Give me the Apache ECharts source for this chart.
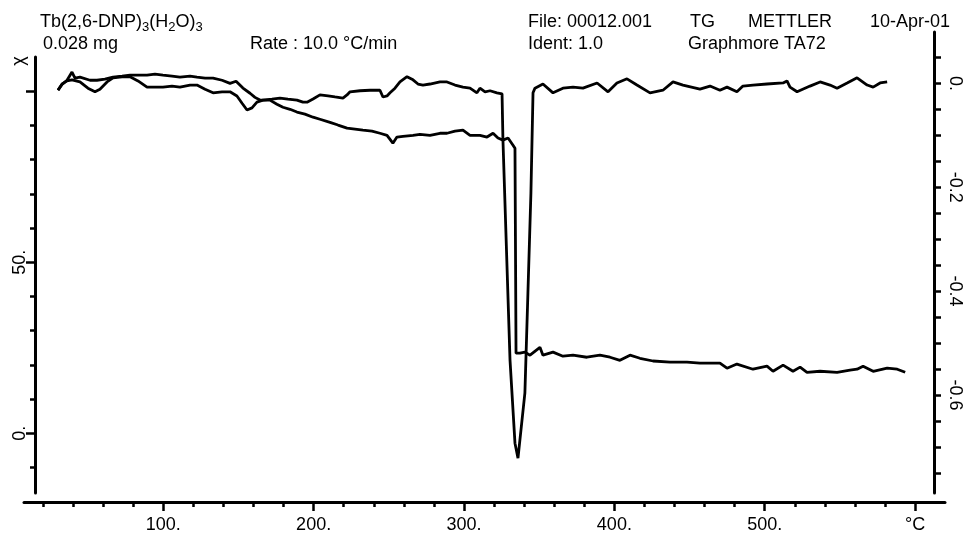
<!DOCTYPE html>
<html><head><meta charset="utf-8">
<script src="https://cdn.jsdelivr.net/npm/echarts@6/dist/echarts.min.js"></script>
<style>html,body{margin:0;padding:0;background:#fff}#c{width:965px;height:534px}</style>
</head><body><div id="c"></div>
<script>
// ---- data ----
const tgTemp = [30.0,32.7,36.0,39.3,41.3,44.6,51.3,55.9,61.2,66.6,
72.6,77.9,84.5,89.2,94.5,99.8,105.8,111.1,117.8,122.4,
127.8,133.1,139.1,144.4,148.4,149.7,153.0,157.7,161.0,164.3,
170.9,175.6,179.6,184.3,188.9,194.2,199.6,204.2,210.9,216.2,
222.2,227.5,232.8,238.8,244.1,248.8,252.7,255.4,259.4,266.1,
270.7,277.4,284.0,288.7,294.0,299.3,304.0,310.6,315.3,319.3,
322.6,325.9,329.3,332.6,333.9,334.6,337.2,340.5,343.9,350.5,
352.5,359.2,365.8,372.5,381.7,390.4,397.1,403.7,410.4,417.0,
425.7,437.0,448.3,456.9,470.2,474.9,481.5,492.2,501.5,505.5,
512.2,518.8,523.5,528.1,536.8,548.1,556.7,561.4,565.4,572.1,
581.4,588.1,593.4];
const tgMass = [100.3,102.0,103.2,105.6,103.8,104.1,103.2,103.2,103.5,104.1,
104.4,104.7,104.7,104.7,105.0,104.7,104.4,104.1,104.4,104.1,
103.8,103.8,103.2,102.3,102.9,103.2,100.9,99.4,98.2,97.4,
97.4,96.2,95.3,94.7,93.9,93.3,92.4,91.8,90.9,90.1,
89.2,88.9,88.6,88.3,87.7,87.1,84.8,86.6,86.8,87.1,
87.4,87.1,87.7,87.7,88.3,88.6,87.1,87.1,86.6,87.7,
86.3,85.7,86.3,84.2,83.3,23.4,23.4,23.7,22.8,25.1,
22.8,23.7,22.5,22.8,22.2,22.8,22.2,21.3,22.8,21.9,
21.1,20.8,20.8,20.5,20.5,19.0,20.2,18.7,19.6,18.1,
19.9,18.1,19.3,17.8,18.1,17.8,18.4,18.7,19.6,18.1,
19.0,18.7,17.8];
const dtgTemp = [30.0,32.7,36.0,39.3,44.6,49.9,54.6,57.9,62.6,66.6,
72.6,77.9,83.2,89.2,94.5,99.8,105.8,111.1,117.8,122.4,
127.8,133.1,139.1,144.4,149.0,152.4,155.7,159.0,162.3,166.3,
172.3,177.6,182.9,188.9,192.9,195.6,199.6,204.2,209.6,214.2,
219.5,222.2,224.2,230.8,237.5,244.1,246.1,248.8,250.8,254.1,
257.4,262.1,266.1,269.4,272.7,277.4,284.0,288.7,294.0,299.3,
304.0,308.6,310.6,314.0,317.3,321.9,325.3,325.9,330.6,333.9,
335.9,337.2,340.5,342.5,344.5,345.9,347.2,352.5,359.2,365.8,
372.5,379.1,388.5,395.8,401.7,408.4,415.0,423.7,432.3,439.0,
445.6,456.9,463.6,470.2,474.9,481.5,485.5,492.2,501.5,512.2,
514.8,516.8,521.5,530.1,536.8,543.4,548.1,554.8,561.4,568.1,
572.1,576.7,581.4];
const dtgValue = [-0.013,-0.001,0.005,0.007,0.003,-0.009,-0.016,-0.011,0.003,0.011,
0.013,0.013,0.005,-0.007,-0.007,-0.007,-0.005,-0.007,-0.003,-0.003,
-0.011,-0.018,-0.016,-0.016,-0.024,-0.038,-0.051,-0.047,-0.036,-0.032,
-0.030,-0.028,-0.030,-0.032,-0.036,-0.036,-0.030,-0.022,-0.024,-0.026,
-0.028,-0.022,-0.016,-0.014,-0.013,-0.013,-0.026,-0.024,-0.018,-0.009,
0.003,0.013,0.007,-0.001,-0.003,-0.001,0.003,0.003,-0.003,-0.007,
-0.009,-0.018,-0.009,-0.016,-0.014,-0.018,-0.020,-0.109,-0.533,-0.693,
-0.722,-0.720,-0.596,-0.404,-0.211,-0.018,-0.009,-0.001,-0.018,-0.009,
-0.007,-0.009,0.001,-0.016,0.001,0.009,-0.003,-0.018,-0.013,0.003,
-0.003,-0.011,-0.005,-0.013,-0.007,-0.016,-0.005,-0.003,-0.001,0.001,
0.005,-0.007,-0.016,-0.005,0.003,-0.003,-0.009,0.001,0.011,-0.003,
-0.007,0.001,0.003];

// ---- ticks & labels ----
const xMinorTicks = [20,40,60,80,100,120,140,160,180,200,220,240,260,280,300,320,340,360,380,400,420,440,460,480,500,520,540,560,580,600];
const xMajorTicks = [100,200,300,400,500,600];
const xMajorLabels = ['100.','200.','300.','400.','500.','°C'];
const leftMinorTicks = [-10,0,10,20,30,40,50,60,70,80,90,100];
const leftMajorTicks = [0,50,100];
const leftLabelValues = [0,50];
const leftLabels = ['0.','50.'];
const rightTicks = [-0.75,-0.7,-0.65,-0.6,-0.55,-0.5,-0.45,-0.4,-0.35,-0.3,-0.25,-0.2,-0.15,-0.1,-0.05,0,0.05];
const rightLabelValues = [0,-0.2,-0.4,-0.6];
const rightLabels = ['0.','-0.2','-0.4','-0.6'];

const FONT = 'Liberation Sans, Arial, Helvetica, sans-serif';
function lookup(vals, labels){
  return function(v){
    for (let i=0;i<vals.length;i++){ if (Math.abs(vals[i]-v)<1e-6) return labels[i]; }
    return '';
  };
}
const black = '#000';
const chart = echarts.init(document.getElementById('c'), null, {renderer:'canvas'});
const hiddenX = {type:'value', min:14.70, max:612.56, show:false};
const dispXRange = {min:7.38, max:619.88};

chart.setOption({
  animation:false,
  backgroundColor:'#fff',
  grid:[
    {left:35, right:31, top:57, bottom:41},
    {left:35, right:31, top:32, bottom:41},
    {left:24, right:20, top:32, bottom:31}
  ],
  xAxis:[
    Object.assign({gridIndex:0}, hiddenX),
    Object.assign({gridIndex:1}, hiddenX),
    {gridIndex:2, type:'value', min:dispXRange.min, max:dispXRange.max, position:'bottom',
     axisLine:{show:true, onZero:false, lineStyle:{color:black, width:3}},
     axisTick:{show:true, customValues:xMinorTicks, length:5, lineStyle:{color:black, width:2.5}},
     axisLabel:{show:false}, splitLine:{show:false}},
    {gridIndex:2, type:'value', min:dispXRange.min, max:dispXRange.max, position:'bottom',
     axisLine:{show:false, onZero:false},
     axisTick:{show:true, customValues:xMajorTicks, length:9, lineStyle:{color:black, width:2.5}},
     axisLabel:{show:true, customValues:xMajorTicks, formatter:lookup(xMajorTicks,xMajorLabels),
       color:black, fontSize:18, fontFamily:FONT, margin:14},
     splitLine:{show:false}}
  ],
  yAxis:[
    {gridIndex:0, type:'value', min:-17.5, max:110, position:'left',
     axisLine:{show:true, onZero:false, lineStyle:{color:black, width:3}},
     axisTick:{show:true, customValues:leftMinorTicks, length:5, lineStyle:{color:black, width:2.5}},
     axisLabel:{show:false}, splitLine:{show:false}},
    {gridIndex:0, type:'value', min:-17.5, max:110, position:'left',
     axisLine:{show:false, onZero:false},
     axisTick:{show:true, customValues:leftMajorTicks, length:9, lineStyle:{color:black, width:2.5}},
     axisLabel:{show:true, customValues:leftLabelValues, formatter:lookup(leftLabelValues,leftLabels),
       rotate:90, color:black, fontSize:18, fontFamily:FONT, margin:6},
     splitLine:{show:false}},
    {gridIndex:1, type:'value', min:-0.789, max:0.0992, position:'right',
     axisLine:{show:true, onZero:false, lineStyle:{color:black, width:3}},
     axisTick:{show:true, customValues:rightTicks, length:7, lineStyle:{color:black, width:2.5}},
     axisLabel:{show:true, customValues:rightLabelValues, formatter:lookup(rightLabelValues,rightLabels),
       rotate:-90, color:black, fontSize:18, fontFamily:FONT, margin:12},
     splitLine:{show:false}},
    {gridIndex:2, type:'value', show:false, min:0, max:1}
  ],
  series:[
    {name:'TG', type:'line', xAxisIndex:0, yAxisIndex:0, showSymbol:false, silent:true,
     data: tgTemp.map((t,i)=>[t, tgMass[i]]),
     lineStyle:{color:black, width:2.8}},
    {name:'DTG', type:'line', xAxisIndex:1, yAxisIndex:2, showSymbol:false, silent:true,
     data: dtgTemp.map((t,i)=>[t, dtgValue[i]]),
     lineStyle:{color:black, width:2.8}}
  ],
  graphic:[
    {type:'text', x:40, y:22, style:{text:'{m|Tb(2,6-DNP)}{s|3}{m|(H}{s|2}{m|O)}{s|3}', verticalAlign:'middle', fill:black,
      rich:{m:{fontSize:18, fontFamily:FONT, fill:black}, s:{fontSize:13, fontFamily:FONT, fill:black, padding:[10,0,0,0]}}}},
    {type:'text', x:43, y:44, style:{text:'0.028 mg', font:'18px '+FONT, fill:black, verticalAlign:'middle'}},
    {type:'text', x:250, y:44, style:{text:'Rate : 10.0 °C/min', font:'18px '+FONT, fill:black, verticalAlign:'middle'}},
    {type:'text', x:528, y:22, style:{text:'File: 00012.001', font:'18px '+FONT, fill:black, verticalAlign:'middle'}},
    {type:'text', x:690, y:22, style:{text:'TG', font:'18px '+FONT, fill:black, verticalAlign:'middle'}},
    {type:'text', x:748, y:22, style:{text:'METTLER', font:'18px '+FONT, fill:black, verticalAlign:'middle'}},
    {type:'text', x:870, y:22, style:{text:'10-Apr-01', font:'18px '+FONT, fill:black, verticalAlign:'middle'}},
    {type:'text', x:528, y:44, style:{text:'Ident: 1.0', font:'18px '+FONT, fill:black, verticalAlign:'middle'}},
    {type:'text', x:688, y:44, style:{text:'Graphmore TA72', font:'18px '+FONT, fill:black, verticalAlign:'middle'}},
    {type:'text', x:19, y:61, rotation:Math.PI/2, style:{text:'\u03c7', font:'18px '+FONT, fill:black, align:'center', verticalAlign:'middle'}}
  ]
});
</script></body></html>
